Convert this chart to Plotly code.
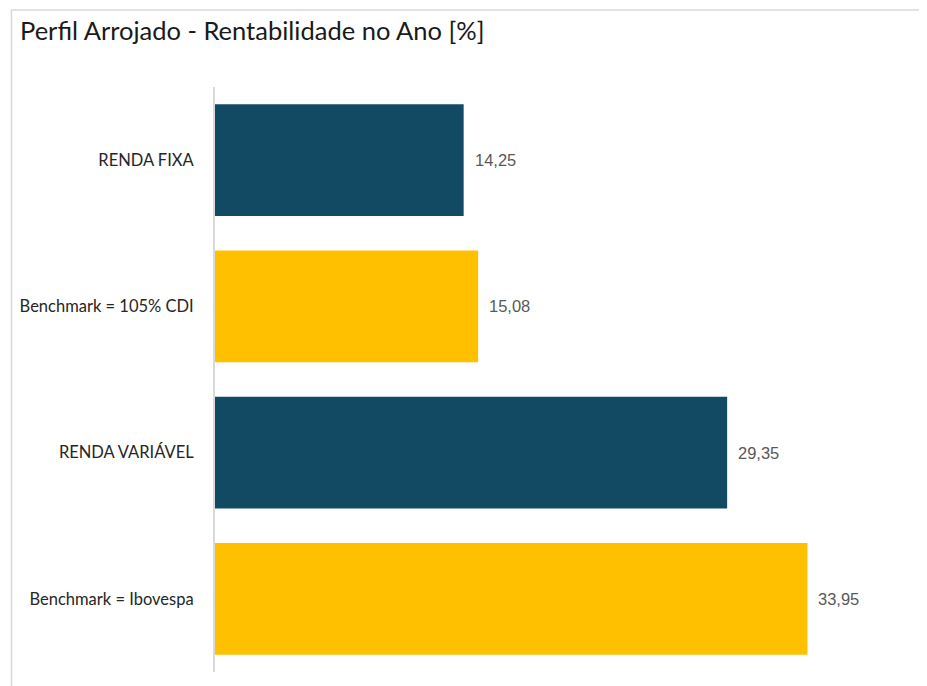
import plotly.graph_objects as go

categories = ["RENDA FIXA", "Benchmark = 105% CDI", "RENDA VARIÁVEL", "Benchmark = Ibovespa"]
values = [14.25, 15.08, 29.35, 33.95]
bar_colors = ["#134A63", "#FFC000", "#134A63", "#FFC000"]
title_text = "Perfil Arrojado - Rentabilidade no Ano [%]"

OFF = 8  # page body offset
W, H = 927, 686
L, T = 210 - OFF, 87 - OFF
R = W - (913 - OFF)
B = H - (672 - OFF)
pw = W - L - R
ph = H - T - B

fig = go.Figure(go.Bar(
    x=values, y=categories, orientation="h",
    marker=dict(color=bar_colors, line=dict(width=0)),
    hoverinfo="skip",
))

for c, v in zip(categories, values):
    fig.add_annotation(x=v, y=c, xref="x", yref="y", text=f"{v:.2f}".replace(".", ","),
                       showarrow=False, xanchor="left", xshift=9,
                       font=dict(family="Liberation Sans, Arial", size=16.5, color="#595959"))

def px_x(p):
    return (p - OFF - L) / pw

def px_y(p):
    return (H - B - (p - OFF)) / ph

fig.add_shape(type="rect", xref="paper", yref="paper",
              x0=px_x(5), x1=px_x(940), y0=px_y(700), y1=px_y(10),
              line=dict(color="#D9D9D9", width=1.5), fillcolor="rgba(0,0,0,0)", layer="below")

fig.update_layout(
    width=W, height=H,
    margin=dict(l=L, r=R, t=T, b=B),
    paper_bgcolor="white", plot_bgcolor="white",
    bargap=0.235,
    showlegend=False,
    title=dict(text=title_text, xref="container", yref="container",
               x=12 / W, xanchor="left", y=1 - 14 / H, yanchor="top",
               font=dict(family="Lato", size=25.5, color="#1a1a1a")),
    xaxis=dict(range=[0, 40], visible=False, showgrid=False, zeroline=False),
    yaxis=dict(autorange="reversed", showgrid=False, zeroline=False,
               showline=True, linecolor="#D9D9D9", linewidth=2,
               ticks="", ticklabelstandoff=16,
               tickfont=dict(family="Lato", size=16.5, color="#262626")),
)

fig.write_html("out.html")
